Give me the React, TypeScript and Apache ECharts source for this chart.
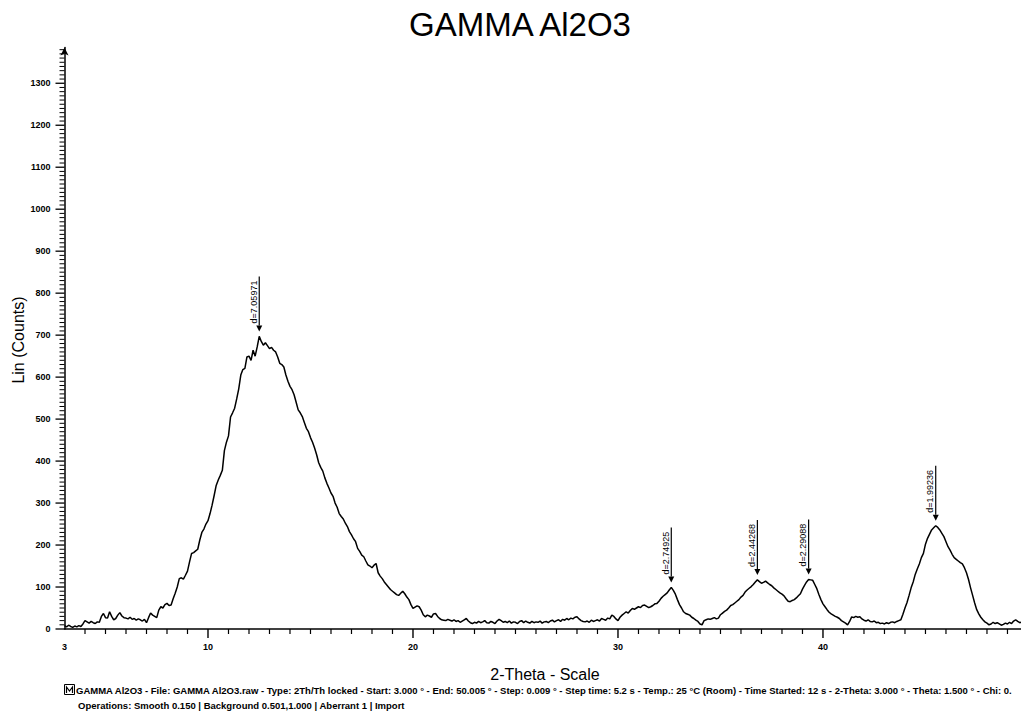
import React, { useEffect, useRef } from "react";
import * as echarts from "echarts";

// Diffractogram: GAMMA Al2O3, counts sampled every 0.1° 2-theta from 3.0°
const scanStart = 3.0;
const scanStep = 0.1;
const counts = [
  8, 5, 9, 6, 4, 7, 5, 8, 6, 12,
  20, 17, 14, 18, 15, 13, 17, 16, 30, 37,
  27, 26, 41, 30, 22, 25, 33, 39, 31, 27,
  26, 24, 28, 23, 25, 21, 24, 22, 19, 23,
  15, 27, 38, 33, 30, 27, 45, 53, 50, 58,
  61, 56, 57, 72, 85, 100, 120, 122, 119, 128,
  138, 160, 180, 182, 186, 190, 212, 230, 238, 250,
  258, 275, 295, 318, 342, 355, 366, 378, 425, 445,
  460, 505, 515, 526, 548, 572, 605, 618, 621, 648,
  650, 640, 664, 650, 672, 697, 685, 676, 682, 675,
  668, 671, 664, 660, 648, 633, 630, 624, 605, 590,
  578, 570, 558, 540, 522, 515, 506, 492, 478, 470,
  456, 445, 431, 415, 396, 385, 376, 360, 347, 336,
  324, 316, 300, 290, 275, 268, 262, 252, 244, 232,
  224, 215, 208, 192, 185, 176, 172, 162, 153, 150,
  146, 152, 156, 134, 126, 120, 112, 106, 100, 94,
  90, 86, 82, 80, 85, 90, 84, 76, 70, 58,
  49, 52, 55, 53, 45, 34, 29, 33, 31, 28,
  36, 37, 30, 25, 22, 21, 20, 23, 21, 19,
  22, 18, 20, 16, 19, 22, 25, 19, 15, 13,
  16, 14, 18, 15, 17, 20, 15, 14, 18, 16,
  13, 19, 23, 20, 16, 18, 15, 19, 14, 17,
  16, 13, 18, 20, 15, 19, 16, 14, 18, 15,
  17, 16, 19, 14, 17, 18, 15, 19, 21, 17,
  20, 22, 18, 23, 21, 25, 22, 26, 24, 28,
  29, 24, 20, 18, 17, 19, 16, 21, 18, 20,
  22, 19, 25, 23, 21, 26, 24, 33, 30, 24,
  20, 28, 33, 37, 41, 38, 44, 49, 47, 50,
  53, 51, 56, 57, 54, 51, 53, 56, 60, 61,
  66, 73, 78, 82, 86, 93, 99, 92, 83, 70,
  58, 50, 41, 37, 35, 33, 28, 25, 21, 18,
  12, 10, 20, 22, 24, 23, 25, 27, 24, 26,
  34, 38, 42, 45, 50, 56, 58, 62, 66, 70,
  76, 80, 88, 93, 97, 101, 106, 112, 117, 113,
  109, 111, 114, 110, 106, 103, 98, 94, 90, 86,
  83, 79, 72, 66, 65, 68, 70, 74, 79, 84,
  95, 104, 112, 118, 117, 116, 106, 96, 82, 70,
  60, 53, 46, 40, 36, 33, 30, 28, 25, 20,
  17, 14, 10, 18, 29, 27, 30, 28, 29, 24,
  21, 19, 22, 18, 17, 19, 15, 16, 13, 14,
  12, 15, 13, 16, 17, 15, 18, 20, 22, 35,
  50, 63, 80, 98, 112, 130, 143, 155, 170, 180,
  202, 216, 226, 236, 241, 246, 242, 236, 228, 220,
  208, 196, 188, 178, 170, 166, 162, 158, 155, 146,
  134, 118, 98, 80, 62, 46, 36, 28, 22, 17,
  14, 10, 12, 16, 13, 15, 12, 9, 11, 14,
  12, 16, 13, 19, 22, 18, 15, 17,
];

// Peak markers: position (2-theta), peak height and d-spacing label
const peakAngles = [12.5, 32.6, 36.8, 39.3, 45.5];
const peakCounts = [697, 99, 117, 118, 246];
const peakLabels = ["d=7.05971", "d=2.74925", "d=2.44268", "d=2.29088", "d=1.99236"];

// Axis tick labels
const xLabelValues = [3, 10, 20, 30, 40];

const titleText = "GAMMA Al2O3";
const xAxisTitle = "2-Theta - Scale";
const yAxisTitle = "Lin (Counts)";
const footerLine1 =
  "GAMMA Al2O3 - File: GAMMA Al2O3.raw - Type: 2Th/Th locked - Start: 3.000 ° - End: 50.005 ° - Step: 0.009 ° - Step time: 5.2 s - Temp.: 25 °C (Room) - Time Started: 12 s - 2-Theta: 3.000 ° - Theta: 1.500 ° - Chi: 0.";
const footerLine2 = "Operations: Smooth 0.150 | Background 0.501,1.000 | Aberrant 1 | Import";

const FONT = "'Liberation Sans', Arial, Helvetica, sans-serif";

export default function App() {
  const ref = useRef<HTMLDivElement>(null);

  useEffect(() => {
    if (!ref.current) return;
    const chart = echarts.init(ref.current, undefined, { renderer: "svg" });

    const xMin = 3;
    const xMax = 49.66;
    const yMax = 1385;

    const points = counts.map((c, i) => [+(scanStart + i * scanStep).toFixed(1), c]);
    const peaks = peakAngles.map((a, i) => [a, peakCounts[i]]);

    // tick positions: every degree on 2-theta, every 10 counts on the count axis
    const xTickValues: number[] = [];
    for (let v = 4; v <= 49; v++) xTickValues.push(v);
    const yTickValues: number[] = [];
    for (let v = 0; v <= 1380; v += 10) yTickValues.push(v);

    chart.setOption({
      animation: false,
      backgroundColor: "#ffffff",
      textStyle: { fontFamily: FONT },
      grid: { left: 64.5, right: 0, top: 629 - yMax * 0.4198, bottom: 84, outerBoundsMode: "none" },
      xAxis: {
        type: "value",
        min: xMin,
        max: xMax,
        interval: 1,
        axisLine: { show: true, onZero: false, lineStyle: { color: "#000", width: 1.5 } },
        axisTick: { show: false },
        axisLabel: {
          formatter: (v: number) => (xLabelValues.includes(v) ? String(v) : ""),
          margin: 13,
          color: "#000",
          fontSize: 9,
          fontWeight: "bold",
          fontFamily: FONT,
        },
        splitLine: { show: false },
      },
      yAxis: {
        type: "value",
        min: 0,
        max: yMax,
        interval: 100,
        axisLine: {
          show: true,
          onZero: false,
          symbol: ["none", "arrow"],
          symbolSize: [6, 8],
          lineStyle: { color: "#000", width: 1.5 },
        },
        axisTick: { show: false },
        axisLabel: {
          formatter: (v: number) => (v % 100 === 0 ? String(v) : ""),
          margin: 14,
          color: "#000",
          fontSize: 9,
          fontWeight: "bold",
          fontFamily: FONT,
        },
        splitLine: { show: false },
      },
      series: [
        {
          type: "line",
          data: points,
          showSymbol: false,
          symbol: "none",
          lineStyle: { color: "#000", width: 1.5 },
          clip: true,
        },
        {
          // ruler ticks along both axes, placed through the axis scales
          type: "custom",
          data: [[xMin, 0]],
          clip: false,
          silent: true,
          z: 10,
          renderItem: (_params: any, api: any) => {
            const children: any[] = [];
            xTickValues.forEach((v) => {
              const p = api.coord([v, 0]);
              const major = v % 10 === 0;
              children.push({
                type: "line",
                shape: { x1: p[0], y1: p[1], x2: p[0], y2: p[1] + (major ? 9 : 5) },
                style: { stroke: "#000", lineWidth: major ? 1.4 : 1.2 },
              });
            });
            yTickValues.forEach((v) => {
              const p = api.coord([xMin, v]);
              const major = v % 100 === 0;
              children.push({
                type: "line",
                shape: { x1: p[0] - (major ? 9 : 5), y1: p[1], x2: p[0], y2: p[1] },
                style: { stroke: "#000", lineWidth: major ? 1.3 : 1 },
              });
            });
            return { type: "group", children };
          },
        },
        {
          type: "custom",
          data: peaks,
          clip: false,
          renderItem: (params: any, api: any) => {
            const pt = api.coord([api.value(0), api.value(1)]);
            const px = pt[0];
            const tip = pt[1] - 5;
            const head = 6;
            const len = 55;
            return {
              type: "group",
              children: [
                {
                  type: "polygon",
                  shape: { points: [[px - 3, tip - head], [px + 3, tip - head], [px, tip]] },
                  style: { fill: "#000" },
                },
                {
                  type: "line",
                  shape: { x1: px, y1: tip - head, x2: px, y2: tip - len },
                  style: { stroke: "#000", lineWidth: 1.2 },
                },
                {
                  type: "text",
                  x: px - 1,
                  y: tip - head - 2,
                  rotation: Math.PI / 2,
                  style: {
                    text: peakLabels[params.dataIndex],
                    fill: "#000",
                    font: `9px ${FONT}`,
                    align: "left",
                    verticalAlign: "bottom",
                  },
                },
              ],
            };
          },
        },
      ],
      graphic: [
        {
          type: "text",
          x: 520,
          y: 24,
          style: { text: titleText, fill: "#000", font: `33px ${FONT}`, align: "center", verticalAlign: "middle" },
        },
        {
          type: "text",
          x: 545,
          y: 674,
          style: { text: xAxisTitle, fill: "#000", font: `16px ${FONT}`, align: "center", verticalAlign: "middle" },
        },
        {
          type: "text",
          x: 18,
          y: 340,
          rotation: Math.PI / 2,
          style: { text: yAxisTitle, fill: "#000", font: `16px ${FONT}`, align: "center", verticalAlign: "middle" },
        },
        {
          type: "rect",
          shape: { x: 64.5, y: 684.5, width: 10, height: 10 },
          style: { fill: "#fff", stroke: "#000", lineWidth: 1 },
        },
        {
          type: "polyline",
          shape: { points: [[66.5, 693], [66.5, 687], [69.5, 691], [72.5, 687], [72.5, 693]] },
          style: { stroke: "#000", lineWidth: 1.2, fill: "none" },
        },
        {
          type: "text",
          x: 76,
          y: 690,
          style: { text: footerLine1, fill: "#000", font: `bold 9.5px ${FONT}`, verticalAlign: "middle" },
        },
        {
          type: "text",
          x: 78,
          y: 705,
          style: { text: footerLine2, fill: "#000", font: `bold 9.5px ${FONT}`, verticalAlign: "middle" },
        },
      ],
    });

    return () => chart.dispose();
  }, []);

  return (
    <div
      ref={ref}
      style={{ position: "fixed", left: 0, top: 0, width: 1021, height: 713, background: "#fff" }}
    />
  );
}
